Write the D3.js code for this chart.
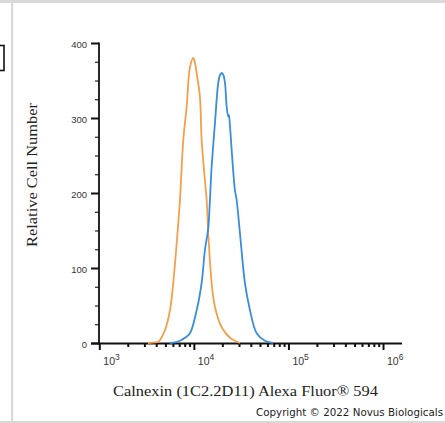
<!DOCTYPE html>
<html><head><meta charset="utf-8">
<script src="https://cdn.jsdelivr.net/npm/d3@7"></script>
<style>html,body{margin:0;padding:0;background:#fff;overflow:hidden}svg{display:block}</style>
</head><body>
<svg id="c" width="445" height="423"></svg>
<script>
// Data (intensity on log axis, relative cell number)
const orangeX = [3270,3880,4200,4390,4950,5600,6050,6580,7130,7730,8390,9100,9860,10280,10790,11590,12080,13090,13650,14190,15420,16710,19680,24100,27160,30690];
const orangeY = [0,0.7,1.7,4,17,44,80,133,191,271,315,368,380,373,357,328,271,217,191,147,80,48,21,7,3,0];
const blueX = [5580,6310,7130,8050,9100,10720,12080,13090,14190,14790,15420,16710,18110,18880,19680,20560,21330,22230,23070,23440,24040,25120,27160,28310,30690,34670,39170,46130,56490,68550];
const blueY = [0,0.7,3,7,13,44,80,124,153,191,235,293,347,357,360,357,347,315,302,304,291,257,204,191,147,80,44,13,3,0];
const yTicks = [0,100,200,300,400];
const yMinor = [25,50,75,125,150,175,225,250,275,325,350,375];
const xDecades = [1e3,1e4,1e5,1e6];
const xExps = ["3","4","5","6"];
const xTitle = "Calnexin (1C2.2D11) Alexa Fluor\u00AE 594";
const yTitle = "Relative Cell Number";
const copyright = "Copyright \u00A9 2022 Novus Biologicals";

const svg = d3.select("#c");
const x = d3.scaleLog().domain([1e3,1e6]).range([99.3,383]);
const y = d3.scaleLinear().domain([0,400]).range([343,43]);

// frame
svg.append("rect").attr("x",0).attr("y",0).attr("width",445).attr("height",3).attr("fill","#d9d9d9");
svg.append("rect").attr("x",11).attr("y",0).attr("width",2.2).attr("height",423).attr("fill","#d9d9d9");
svg.append("rect").attr("x",0).attr("y",421).attr("width",445).attr("height",2).attr("fill","#d9d9d9");
svg.append("rect").attr("x",-5).attr("y",45.5).attr("width",9).attr("height",25).attr("fill","none").attr("stroke","#111").attr("stroke-width",1.6);

// minor x ticks
const xMinor = [];
for (let d = 1e3; d < 1e6; d *= 10) for (let k = 2; k <= 9; k++) xMinor.push(d*k);

const gx = svg.append("g").attr("transform","translate(0,343)");
gx.call(d3.axisBottom(x).tickValues(xMinor).tickSize(4).tickFormat(""));
gx.append("g").call(d3.axisBottom(x).tickValues(xDecades).tickSize(7).tickFormat(""));
gx.selectAll(".domain").remove();
gx.selectAll("line").attr("stroke","#111").attr("stroke-width",1.1);
gx.selectAll("g g.tick line").attr("stroke-width",2);
svg.append("line").attr("x1",91).attr("x2",402).attr("y1",343.5).attr("y2",343.5).attr("stroke","#111").attr("stroke-width",1.8);

// x tick labels with superscripts
const xl = svg.append("g").attr("font-family","Liberation Sans, Arial, sans-serif").attr("fill","#333");
xDecades.forEach((d,i)=>{
  const t = xl.append("text").attr("x",x(d)+4).attr("y",365).attr("font-size",10.5);
  t.append("tspan").text("10");
  t.append("tspan").attr("dy",-5.5).attr("font-size",8.5).text(xExps[i]);
});

// y axis
const gy = svg.append("g").attr("transform","translate(99,0)");
gy.call(d3.axisLeft(y).tickValues(yMinor).tickSize(4).tickFormat(""));
const gyM = gy.append("g").call(d3.axisLeft(y).tickValues(yTicks).tickSize(8).tickPadding(4).tickFormat(d3.format("d")));
gy.selectAll(".domain").remove();
gy.selectAll("line").attr("stroke","#111").attr("stroke-width",1.1);
gyM.selectAll("line").attr("stroke-width",2);
gyM.selectAll("text").attr("font-family","Liberation Sans, Arial, sans-serif").attr("font-size",9.5).attr("fill","#333").attr("dy","0.5em");
svg.append("line").attr("x1",99).attr("x2",99).attr("y1",42.5).attr("y2",344.4).attr("stroke","#111").attr("stroke-width",1.8);

// curves
const line = d3.line().x(d=>x(d[0])).y(d=>y(d[1])).curve(d3.curveCatmullRom.alpha(0.5));
svg.append("path").datum(orangeX.map((v,i)=>[v,orangeY[i]])).attr("d",line)
  .attr("fill","none").attr("stroke","#f2a04c").attr("stroke-width",1.8);
svg.append("path").datum(blueX.map((v,i)=>[v,blueY[i]])).attr("d",line)
  .attr("fill","none").attr("stroke","#3a8ddb").attr("stroke-width",1.8);

// titles
svg.append("text").attr("x",113).attr("y",396).attr("font-family","Liberation Serif, Times New Roman, serif")
  .attr("font-size",15.5).attr("fill","#222").attr("textLength",265).attr("lengthAdjust","spacingAndGlyphs").text(xTitle);
svg.append("text").attr("transform","translate(37,247) rotate(-90)").attr("font-family","Liberation Serif, Times New Roman, serif")
  .attr("font-size",14.5).attr("fill","#222").attr("textLength",144).attr("lengthAdjust","spacingAndGlyphs").text(yTitle);
svg.append("text").attr("x",256).attr("y",416).attr("font-family","DejaVu Sans, sans-serif")
  .attr("font-size",10.3).attr("fill","#222").attr("textLength",187).attr("lengthAdjust","spacingAndGlyphs").text(copyright);
</script>
</body></html>
